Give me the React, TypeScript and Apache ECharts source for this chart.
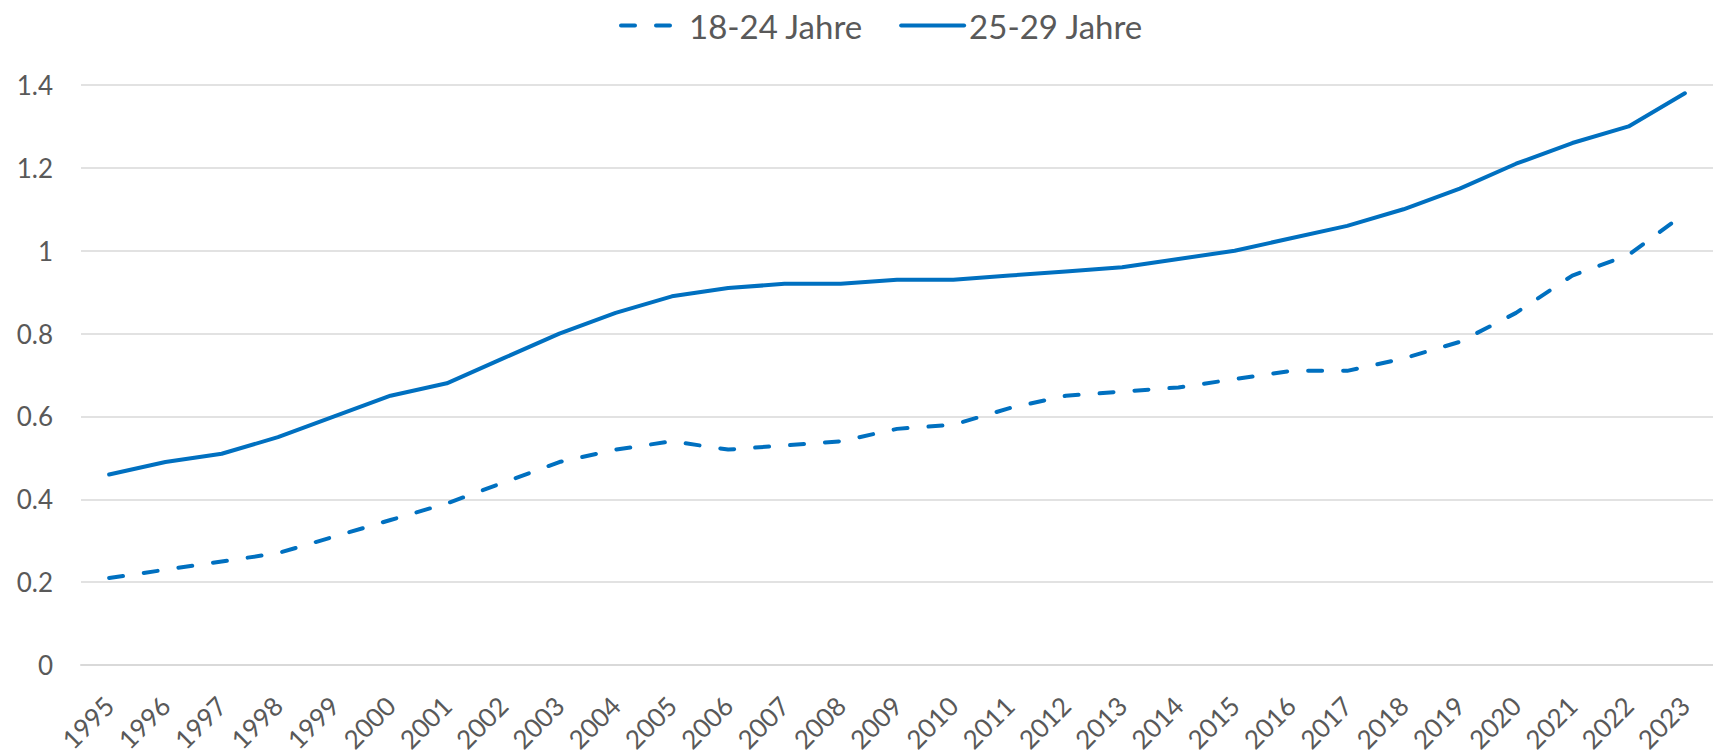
import React, { useEffect, useRef } from "react";
import * as echarts from "echarts";

const years = [
  "1995", "1996", "1997", "1998", "1999", "2000", "2001", "2002", "2003", "2004",
  "2005", "2006", "2007", "2008", "2009", "2010", "2011", "2012", "2013", "2014",
  "2015", "2016", "2017", "2018", "2019", "2020", "2021", "2022", "2023",
];

const seriesNames = ["18-24 Jahre", "25-29 Jahre"];

const young = [
  0.21, 0.23, 0.25, 0.27, 0.31, 0.35, 0.39, 0.44, 0.49, 0.52,
  0.54, 0.52, 0.53, 0.54, 0.57, 0.58, 0.62, 0.65, 0.66, 0.67,
  0.69, 0.71, 0.71, 0.74, 0.78, 0.85, 0.94, 0.99, 1.09,
];

const older = [
  0.46, 0.49, 0.51, 0.55, 0.6, 0.65, 0.68, 0.74, 0.8, 0.85,
  0.89, 0.91, 0.92, 0.92, 0.93, 0.93, 0.94, 0.95, 0.96, 0.98,
  1.0, 1.03, 1.06, 1.1, 1.15, 1.21, 1.26, 1.3, 1.38,
];

const BLUE = "#0070C0";
const TEXT = "#595959";
const GRID = "#D9D9D9";
const FONT = "Lato";
const DASH = [14, 21];

export default function App() {
  const ref = useRef<HTMLDivElement>(null);

  useEffect(() => {
    if (!ref.current) return;
    const chart = echarts.init(ref.current, undefined, { renderer: "svg" });
    chart.setOption({
      animation: false,
      backgroundColor: "#ffffff",
      textStyle: { fontFamily: FONT },
      legend: {
        left: 614,
        top: 4,
        itemWidth: 63,
        itemHeight: 14,
        itemGap: 36,
        itemStyle: { opacity: 0 },
        lineStyle: { width: 4, cap: "round" },
        textStyle: { fontSize: 33, color: TEXT, fontFamily: FONT },
        data: [
          { name: seriesNames[0], lineStyle: { width: 4, type: DASH, cap: "round" } },
          { name: seriesNames[1], lineStyle: { width: 4, type: "solid", cap: "round" } },
        ],
      },
      grid: {
        left: 81,
        top: 85,
        bottom: 84,
        width: 1644,
        containLabel: false,
      },
      xAxis: {
        type: "category",
        data: years,
        boundaryGap: true,
        axisLine: { show: true, lineStyle: { color: GRID, width: 2 } },
        axisTick: { show: false },
        axisLabel: {
          rotate: 45,
          interval: 0,
          margin: 36,
          fontSize: 26,
          color: TEXT,
          fontFamily: FONT,
        },
      },
      yAxis: {
        type: "value",
        min: 0,
        max: 1.4,
        interval: 0.2,
        axisLine: { show: false },
        axisTick: { show: false },
        splitLine: { show: true, lineStyle: { color: GRID, width: 1.5 } },
        axisLabel: {
          margin: 28,
          fontSize: 26,
          color: TEXT,
          fontFamily: FONT,
        },
      },
      series: [
        {
          name: seriesNames[0],
          type: "line",
          data: young,
          symbol: "none",
          showSymbol: false,
          smooth: false,
          color: BLUE,
          lineStyle: { color: BLUE, width: 4, type: DASH, cap: "round", join: "round" },
        },
        {
          name: seriesNames[1],
          type: "line",
          data: older,
          symbol: "none",
          showSymbol: false,
          smooth: false,
          color: BLUE,
          lineStyle: { color: BLUE, width: 4, type: "solid", cap: "round", join: "round" },
        },
      ],
    });
    return () => chart.dispose();
  }, []);

  return (
    <div
      ref={ref}
      style={{ position: "fixed", left: 0, top: 0, width: 1713, height: 755, background: "#fff" }}
    />
  );
}
